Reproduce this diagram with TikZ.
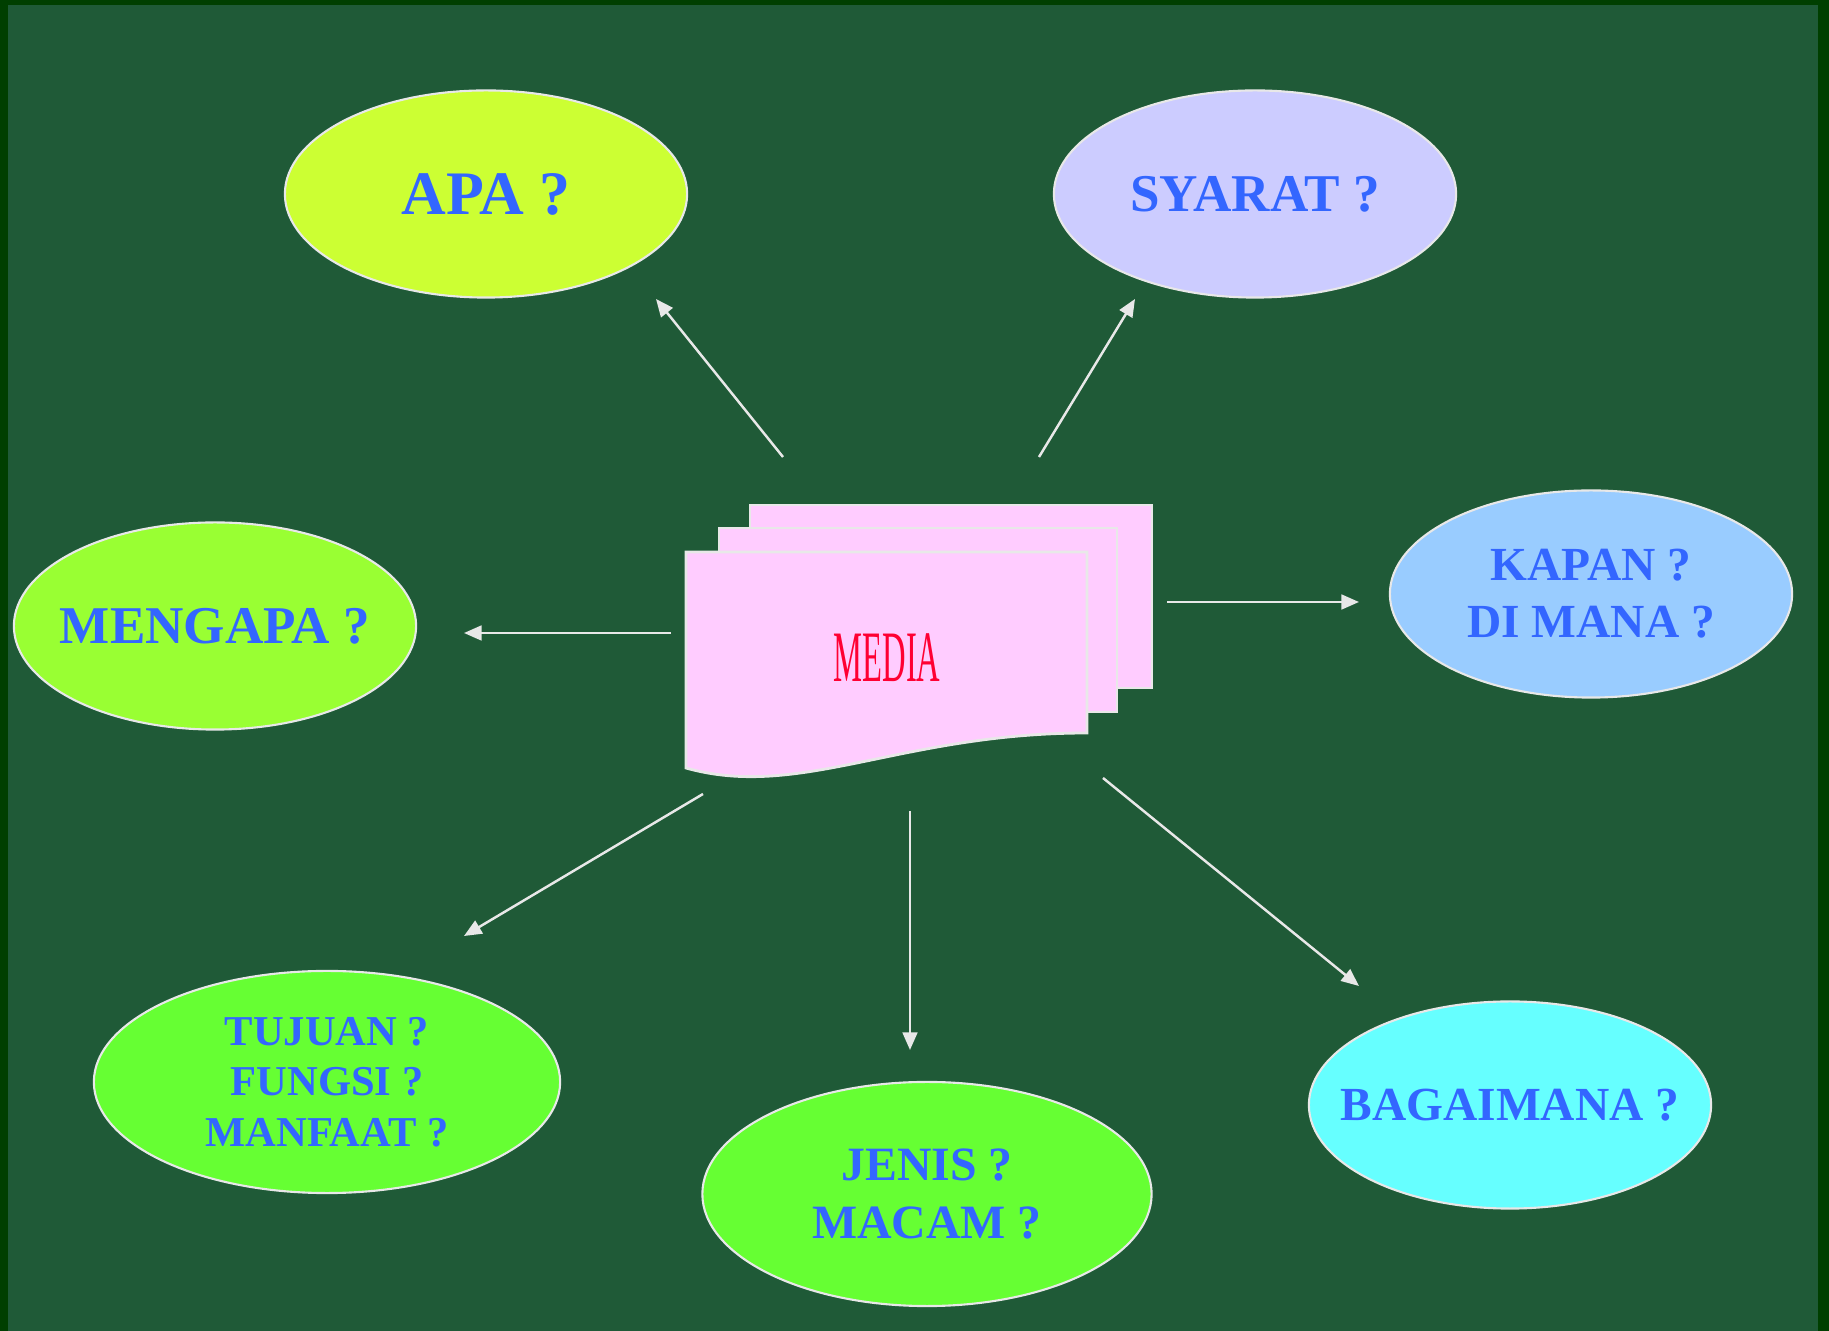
\documentclass[tikz,border=0pt]{standalone}
\usepackage{fontspec}
\setmainfont{Liberation Serif}
\usetikzlibrary{shapes.geometric,arrows.meta}
\definecolor{framegreen}{HTML}{003F00}
\definecolor{marble}{HTML}{1F5A37}
\definecolor{qblue}{HTML}{3366FF}
\definecolor{rimgray}{HTML}{E8E8E8}
\definecolor{pagepink}{HTML}{FFCCFF}
\definecolor{mediared}{HTML}{FF0033}
\definecolor{apafill}{HTML}{CCFF33}
\definecolor{syaratfill}{HTML}{CCCCFF}
\definecolor{kapanfill}{HTML}{99CCFF}
\definecolor{mengapafill}{HTML}{99FF33}
\definecolor{tujuanfill}{HTML}{66FF33}
\definecolor{bagaimanafill}{HTML}{66FFFF}

\begin{document}
\begin{tikzpicture}[x=0.01cm, y=-0.01cm,
        bubble/.style={draw=rimgray, line width=0.6pt, shape=ellipse, minimum width=4.02cm, minimum height=2.07cm, inner sep=0pt},
        question/.style={text=qblue, align=center, inner sep=0pt},
        page/.style={draw=rimgray, line width=0.8pt, fill=pagepink},
        pointer/.style={draw=rimgray, line width=0.7pt, -{Triangle[length=5pt,width=4.2pt]}}]
        \useasboundingbox (0,0) rectangle (1829,1331);
        \fill[framegreen] (0,0) rectangle (1829,1331);
        \fill[marble] (8,5) rectangle (1818,1331);

        % the stack of pages in the middle
        \draw[page] (750,505) rectangle (1152,688);
        \draw[page] (719,528) rectangle (1117,712);
        \draw[page] (686,552) -- (1087,552) -- (1087,733) .. controls (900,733) and (800,800) .. (686,768) -- cycle;
        \node[text=mediared, font=\fontsize{20.6}{24}\selectfont] (media) at (887,658) {\scalebox{0.45}[1]{MEDIA}};

        \node[bubble, fill=apafill] (apa) at (486,194) {};
        \node[bubble, fill=syaratfill] (syarat) at (1255,194) {};
        \node[bubble, fill=kapanfill] (kapan) at (1591,594) {};
        \node[bubble, fill=mengapafill] (mengapa) at (215,626) {};
        \node[bubble, fill=tujuanfill, minimum width=4.66cm, minimum height=2.22cm] (tujuan) at (327,1082) {};
        \node[bubble, fill=tujuanfill, minimum width=4.49cm, minimum height=2.24cm] (jenis) at (927,1194) {};
        \node[bubble, fill=bagaimanafill] (bagaimana) at (1510,1105) {};

        \node[question, font=\bfseries\fontsize{17.6}{20}\selectfont] (apatext) at (apa) {APA ?};
        \node[question, font=\bfseries\fontsize{15.1}{18}\selectfont] (syarattext) at (syarat) {SYARAT ?};
        \node[question, font=\bfseries\fontsize{13.5}{16.2}\selectfont] (kapantext) at (kapan) {KAPAN ?\\DI MANA ?};
        \node[question, font=\bfseries\fontsize{15.1}{18}\selectfont] (mengapatext) at (mengapa) {MENGAPA ?};
        \node[question, font=\bfseries\fontsize{12.1}{14.4}\selectfont] (tujuantext) at (tujuan) {TUJUAN ?\\FUNGSI ?\\MANFAAT ?};
        \node[question, font=\bfseries\fontsize{13.6}{16.4}\selectfont] (jenistext) at (jenis) {JENIS ?\\MACAM ?};
        \node[question, font=\bfseries\fontsize{13.5}{16}\selectfont] (bagaimanatext) at (bagaimana) {BAGAIMANA ?};

        \coordinate (s1) at (783,457);  \coordinate (e1) at (656,299);
        \coordinate (s2) at (1039,457); \coordinate (e2) at (1135,299);
        \coordinate (s3) at (1167,602); \coordinate (e3) at (1359,602);
        \coordinate (s4) at (671,633);  \coordinate (e4) at (464,633);
        \coordinate (s5) at (703,794);  \coordinate (e5) at (464,936);
        \coordinate (s6) at (910,811);  \coordinate (e6) at (910,1050);
        \coordinate (s7) at (1103,778); \coordinate (e7) at (1359,986);
        \draw[pointer] (s1) -- (e1);
        \draw[pointer] (s2) -- (e2);
        \draw[pointer] (s3) -- (e3);
        \draw[pointer] (s4) -- (e4);
        \draw[pointer] (s5) -- (e5);
        \draw[pointer] (s6) -- (e6);
        \draw[pointer] (s7) -- (e7);
\end{tikzpicture}
\end{document}
